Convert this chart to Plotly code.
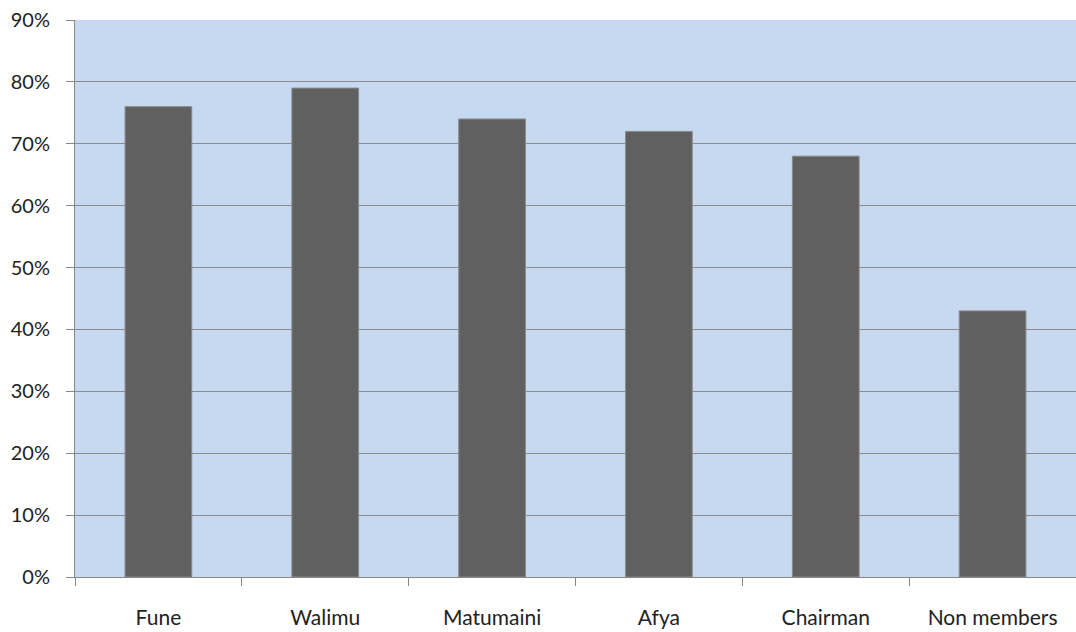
import plotly.graph_objects as go

categories = ["Fune", "Walimu", "Matumaini", "Afya", "Chairman", "Non members"]
values = [0.76, 0.79, 0.74, 0.72, 0.68, 0.43]
y_ticks = [0, 0.1, 0.2, 0.3, 0.4, 0.5, 0.6, 0.7, 0.8, 0.9]
y_labels = ["0%", "10%", "20%", "30%", "40%", "50%", "60%", "70%", "80%", "90%"]

fig = go.Figure(go.Bar(
    x=categories, y=values,
    marker=dict(color="#606060", line=dict(color="#8a8a8a", width=1)),
))

fig.update_layout(
    width=1076, height=632,
    margin=dict(l=75, r=0, t=20, b=55),
    paper_bgcolor="white",
    plot_bgcolor="#C6D9F1",
    bargap=0.6,
    showlegend=False,
    font=dict(family="Lato", size=20, color="#222222"),
)
fig.update_xaxes(
    type="category",
    tickson="boundaries",
    ticks="outside", ticklen=8, tickcolor="#878787", tickwidth=1,
    showline=True, linecolor="#878787", linewidth=1,
    showgrid=False,
    ticklabelstandoff=22,
    tickfont=dict(size=21),
)
fig.update_yaxes(
    range=[0, 0.9],
    tickvals=y_ticks, ticktext=y_labels,
    ticks="outside", ticklen=8, tickcolor="#878787", tickwidth=1,
    showline=True, linecolor="#878787", linewidth=1,
    showgrid=True, gridcolor="#8c8c8c", gridwidth=1,
    zeroline=False,
    ticklabelstandoff=12,
    tickfont=dict(size=20),
)

fig.write_html("out.html")
